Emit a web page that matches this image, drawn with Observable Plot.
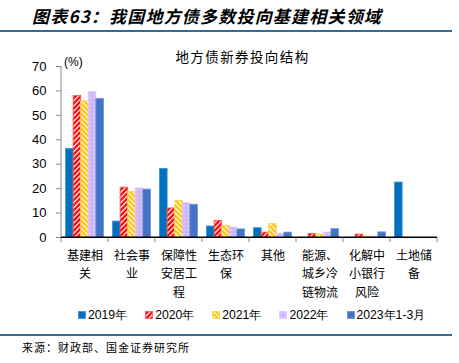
<!DOCTYPE html>
<html><head><meta charset="utf-8">
<script src="https://cdn.jsdelivr.net/npm/d3@7"></script>
<script src="https://cdn.jsdelivr.net/npm/@observablehq/plot@0.6"></script>
<style>
html,body{margin:0;padding:0;background:#fff;}
body{width:459px;height:363px;position:relative;overflow:hidden;font-family:"Liberation Sans",Arial,sans-serif;color:#000;}
.cjk{font-family:"Noto Sans CJK SC","Noto Sans",sans-serif;}
#head{position:absolute;left:32px;top:6px;font-size:17px;font-weight:bold;font-style:italic;letter-spacing:1.2px;white-space:nowrap;line-height:20px;}
#hline{position:absolute;left:0;top:30px;width:452px;height:2px;background:#3A6A92;}
#ctitle{position:absolute;left:0;width:485px;text-align:center;top:47px;font-size:13.5px;letter-spacing:1.4px;line-height:18px;white-space:nowrap;}
#unit{position:absolute;left:64px;top:54px;font-size:12px;line-height:16px;}
#chart{position:absolute;left:0;top:36px;}
#legend{position:absolute;left:78px;top:307px;font-size:12.2px;line-height:16px;white-space:nowrap;display:flex;gap:18px;}
#legend .item{display:flex;align-items:center;}
#legend svg{margin-right:2px;}
#bline{position:absolute;left:0;top:334px;width:452px;height:1.5px;background:#3A6A92;}
#source{position:absolute;left:22px;top:340px;font-size:11px;letter-spacing:1px;line-height:15px;white-space:nowrap;}
</style>
</head><body>
<svg width="0" height="0" style="position:absolute">
<defs>
<pattern id="p2020" width="3.6" height="3.6" patternUnits="userSpaceOnUse" patternTransform="rotate(45)">
<rect width="3.6" height="3.6" fill="#FF0000"/><rect x="0" y="0" width="1.3" height="3.6" fill="#FFFFFF"/>
</pattern>
<pattern id="p2021" width="3.6" height="3.6" patternUnits="userSpaceOnUse" patternTransform="rotate(-45)">
<rect width="3.6" height="3.6" fill="#FFC000"/><rect x="0" y="0" width="1.3" height="3.6" fill="#FFFFFF"/>
</pattern>
<pattern id="p2022" width="4" height="4" patternUnits="userSpaceOnUse">
<rect width="4" height="4" fill="#CDB6FB"/><rect x="1.5" y="1.5" width="1" height="1" fill="#FFFFFF"/>
</pattern>
</defs>
</svg>
<div id="head" class="cjk">图表63：我国地方债多数投向基建相关领域</div>
<div id="hline"></div>
<div id="ctitle" class="cjk">地方债新券投向结构</div>
<div id="unit">(%)</div>
<div id="chart"></div>
<div id="legend"></div>
<div id="bline"></div>
<div id="source" class="cjk">来源：财政部、国金证券研究所</div>
<script>
const categories = ["基建相关","社会事业","保障性安居工程","生态环保","其他","能源、城乡冷链物流","化解中小银行风险","土地储备"];
const series = ["2019年","2020年","2021年","2022年","2023年1-3月"];
const v2019 = [36.3, 6.5, 28.1, 4.5, 3.8, 0, 0, 22.5];
const v2020 = [57.9, 20.4, 11.9, 6.8, 2.0, 1.5, 1.2, 0];
const v2021 = [55.7, 18.7, 14.9, 4.7, 5.5, 1.2, 0.4, 0];
const v2022 = [59.5, 20.1, 14.0, 4.1, 1.6, 2.0, 0.4, 0];
const v2023 = [56.7, 19.6, 13.4, 3.3, 2.0, 3.4, 2.1, 0];
const yTicks = [0,10,20,30,40,50,60,70];

const fills = ["#0070C0","url(#p2020)","url(#p2021)","url(#p2022)","#4472C4"];
const strokes = ["#3F8FD0","#FF5050","#FFD050","#DCC8FF","#6A8FD6"];
const valueArrays = [v2019, v2020, v2021, v2022, v2023];

const rows = [];
series.forEach((s, j) => categories.forEach((c, i) => rows.push({cat: c, s, v: valueArrays[j][i]})));

const wrap = d => d.match(/.{1,3}/gu).join("\n");

const chart = Plot.plot({
  width: 459,
  height: 268,
  marginTop: 30,
  marginBottom: 67,
  marginLeft: 61,
  marginRight: 22,
  style: {fontFamily: "Liberation Sans, Arial, sans-serif", fontSize: "12px", color: "#000", background: "transparent"},
  fx: {domain: categories, padding: 0, round: false},
  x: {domain: series, paddingInner: 0, paddingOuter: 0.6, round: false},
  y: {domain: [0, 70], round: false},
  marks: [
    ...series.map((s, j) => Plot.barY(rows.filter(r => r.s === s), {
      fx: "cat", x: "s", y: "v",
      fill: fills[j], stroke: strokes[j], strokeWidth: 0.8, inset: 0
    })),
    Plot.ruleY([0], {stroke: "#000", strokeWidth: 1}),
    Plot.axisY({ticks: yTicks, tickSize: 5, tickPadding: 10, stroke: "#888", label: null, fontSize: 13, anchor: "left"}),
    Plot.axisFx({tickSize: 0, tickPadding: 9, label: null, tickFormat: wrap, lineHeight: 1.55,
      fontSize: 12, fontFamily: "Noto Sans CJK SC, sans-serif", anchor: "bottom"}),
    Plot.axisX({ticks: [], label: null})
  ]
});
document.getElementById("chart").appendChild(chart);

// category boundary ticks and y-axis line, positioned from Plot's own scales
const fx = chart.scale("fx"), y = chart.scale("y");
const [r0, r1] = fx.range;
const step = (r1 - r0) / categories.length;
const y0 = y.apply(0), yTop = y.apply(70);
const g = d3.select(chart).append("g");
g.append("line").attr("x1", r0).attr("x2", r0).attr("y1", yTop).attr("y2", y0).attr("stroke", "#888");
d3.range(categories.length + 1).forEach(k => {
  const x = r0 + k * step;
  g.append("line").attr("x1", x).attr("x2", x).attr("y1", y0).attr("y2", y0 + 5).attr("stroke", "#888");
});
g.append("line").attr("x1", r0).attr("x2", r1).attr("y1", y0).attr("y2", y0).attr("stroke", "#000");

// legend
const leg = document.getElementById("legend");
series.forEach((s, j) => {
  const it = document.createElement("div");
  it.className = "item";
  it.innerHTML = `<svg width="8" height="8"><rect x="0.5" y="0.5" width="7" height="7" fill="${fills[j]}" stroke="${strokes[j]}" stroke-width="0.8"/></svg><span>${s}</span>`;
  leg.appendChild(it);
});
</script>
</body></html>
